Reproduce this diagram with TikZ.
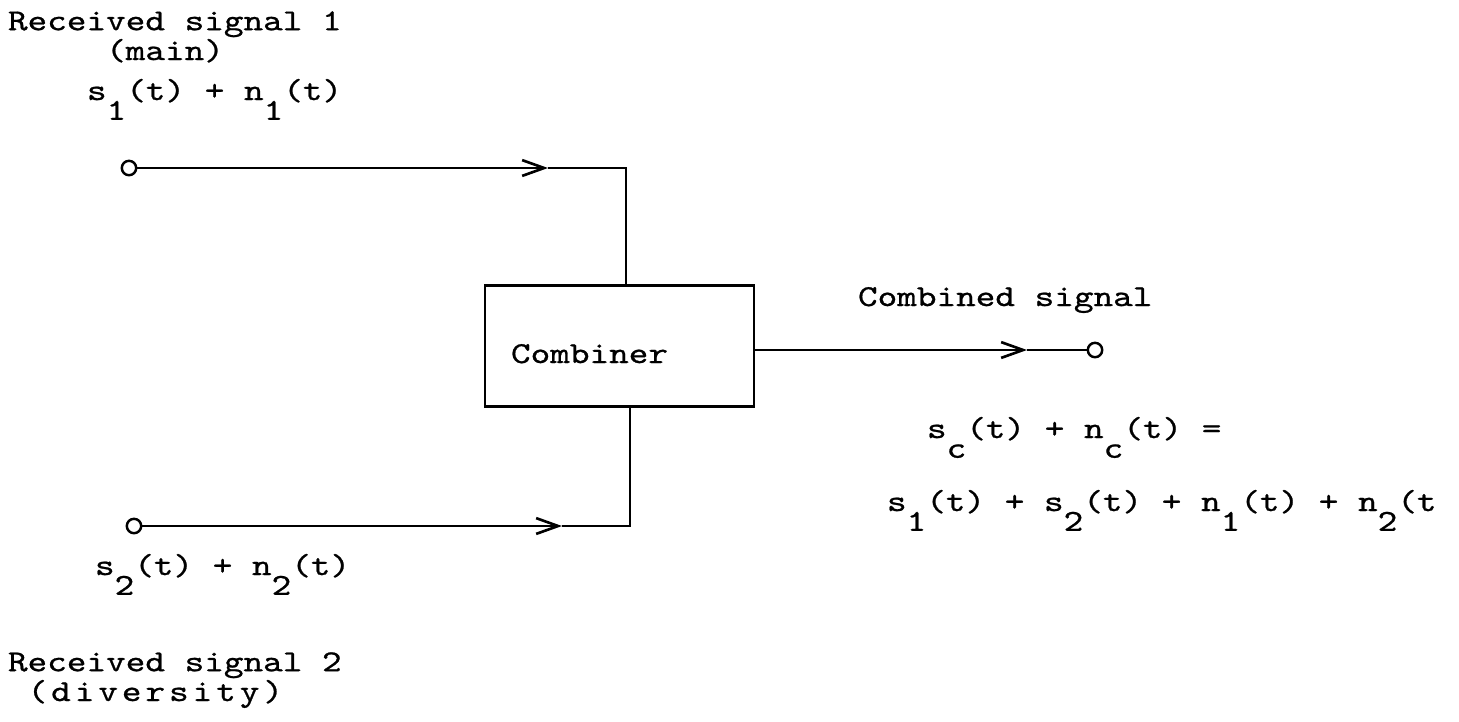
\documentclass[tikz,border=0pt]{standalone}
\usepackage{fontspec}
\setmainfont{lmmono10-regular.otf}[FakeStretch=1.23, FakeBold=0.8]
\usetikzlibrary{arrows.meta}
% lowered digit/letter used as a typewriter subscript
\newcommand{\lo}[1]{\raisebox{-0.65em}{#1}}
\begin{document}
\begin{tikzpicture}[x=0.02cm, y=-0.02cm,
  line width=1.4pt,
  every node/.style={inner sep=0pt, outer sep=0pt, font=\fontsize{17.3pt}{15.9pt}\selectfont},
  lbl/.style={anchor=base west},
  term/.style={circle, draw, fill=white, minimum size=8.2pt, line width=1.4pt},
  blk/.style={draw, minimum width=269*0.569pt, minimum height=121*0.569pt},
  flow/.style={-{Straight Barb[length=12.5pt,width=9pt,line width=1.5pt]}}
]
\useasboundingbox (0,0) rectangle (1459,721);

% combiner block
\node[blk] (comb) at (619.5,346) {};
\node[lbl] (combtxt) at (511,363) {Combiner};

% terminals
\node[term] (in1) at (129,168) {};
\node[term] (in2) at (134,526) {};
\node[term] (out) at (1095,350) {};

% corner and arrow-tip points
\coordinate (t1) at (548,168);
\coordinate (c1) at (626,168);
\coordinate (t2) at (562,526);
\coordinate (c2) at (630,526);
\coordinate (t3) at (1027,350);

% main input path
\draw[flow] (in1) -- (t1);
\draw (t1) -- (c1) -- (c1 |- comb.north);
% diversity input path
\draw[flow] (in2) -- (t2);
\draw (t2) -- (c2) -- (c2 |- comb.south);
% output path
\draw[flow] (comb.east |- t3) -- (t3);
\draw (t3) -- (out);

% labels (two-line labels are anchored at the baseline of their last line)
\node[lbl, align=left] (r1) at (8,60) {Received signal 1\\\phantom{Recei}(main)};
\node[lbl] (e1) at (87,100) {s\lo{1}(t) + n\lo{1}(t)};
\node[lbl] (e2) at (95,575) {s\lo{2}(t) + n\lo{2}(t)};
\node[lbl, align=left, font=\fontsize{17.3pt}{13.1pt}\selectfont] (r2) at (8,701)
  {Received signal 2\\\phantom{R}{\addfontfeature{LetterSpace=13}(diversity)}};
\node[lbl] (cs) at (858,306) {Combined signal};
\node[lbl] (eq1) at (927,438) {s\lo{c}(t) + n\lo{c}(t) =};
\node[lbl] (eq2) at (887,511) {s\lo{1}(t) + s\lo{2}(t) + n\lo{1}(t) + n\lo{2}(t};
\end{tikzpicture}
\end{document}
